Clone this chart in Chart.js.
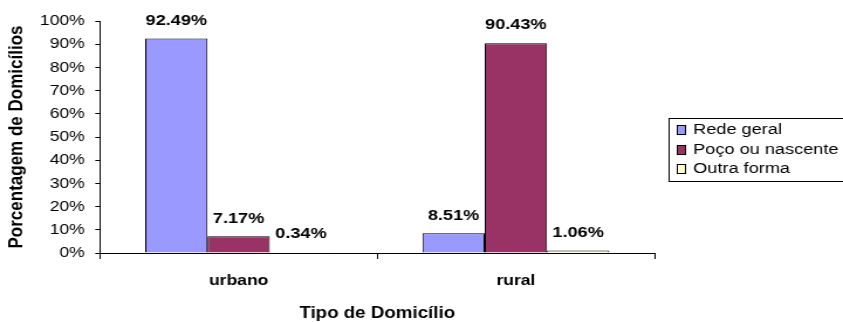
<!DOCTYPE html>
<html>
<head>
<meta charset="utf-8">
<script src="https://cdn.jsdelivr.net/npm/chart.js@4"></script>
<style>
  html, body { margin: 0; padding: 0; background: #fff; }
  /* o gráfico é desenhado mais estreito e esticado na horizontal */
  #grafico { display: block; width: 843px !important; height: 322px !important; }
</style>
</head>
<body>
<canvas id="grafico" width="720" height="322"></canvas>
<script>
// DADOS
const categorias = ['urbano', 'rural'];
const redeGeral = [92.49, 8.51];
const pocoNascente = [7.17, 90.43];
const outraForma = [0.34, 1.06];
const series = ['Rede geral', 'Poço ou nascente', 'Outra forma'];
const cores = ['#9999FF', '#993366', '#FFFFCC'];

const FONTE = 'Arial, "Liberation Sans", sans-serif';
const LARGURA = 720;

// rótulos de valor em cima de cada barra
const rotulosPlugin = {
  id: 'rotulos',
  afterDatasetsDraw(chart) {
    const ctx = chart.ctx;
    ctx.save();
    ctx.font = 'bold 15.5px ' + FONTE;
    ctx.fillStyle = '#000';
    ctx.textAlign = 'center';
    ctx.textBaseline = 'middle';
    chart.data.datasets.forEach((ds, i) => {
      chart.getDatasetMeta(i).data.forEach((bar, j) => {
        ctx.fillText(ds.data[j].toFixed(2) + '%', bar.x, bar.y - 18);
      });
    });
    ctx.restore();
  }
};

// legenda com moldura à direita
const legendaPlugin = {
  id: 'legenda',
  afterDraw(chart) {
    const ctx = chart.ctx;
    const x0 = 571, y0 = 118, h = 63;
    ctx.save();
    ctx.fillStyle = '#fff';
    ctx.fillRect(x0, y0, LARGURA - x0 + 2, h);
    ctx.strokeStyle = '#000';
    ctx.lineWidth = 1;
    ctx.strokeRect(x0 + 0.5, y0 + 0.5, LARGURA - x0 + 5, h);
    ctx.font = '15.5px ' + FONTE;
    ctx.textBaseline = 'middle';
    chart.data.datasets.forEach((ds, i) => {
      const y = Math.round(129 + i * 19.5);
      ctx.fillStyle = ds.backgroundColor;
      ctx.fillRect(578, y - 4, 8, 10);
      ctx.strokeStyle = '#000';
      ctx.strokeRect(578.5, y - 3.5, 7, 9);
      ctx.fillStyle = '#000';
      ctx.fillText(ds.label, 592, y + 1);
    });
    ctx.restore();
  }
};

const valores = [redeGeral, pocoNascente, outraForma];

new Chart(document.getElementById('grafico').getContext('2d'), {
  type: 'bar',
  data: {
    labels: categorias,
    datasets: series.map((nome, i) => ({
      label: nome,
      data: valores[i],
      backgroundColor: cores[i],
      borderColor: '#000',
      borderWidth: 1,
      categoryPercentage: 0.674,
      barPercentage: 1
    }))
  },
  options: {
    responsive: false,
    animation: false,
    devicePixelRatio: 1,
    layout: { padding: { top: 21, right: 161, left: 0, bottom: 0 } },
    plugins: {
      legend: { display: false },
      tooltip: { enabled: false }
    },
    scales: {
      x: {
        afterFit: (s) => { s.height = 69; },
        grid: { drawOnChartArea: false, color: '#000', tickLength: 6, offset: true },
        border: { color: '#000', width: 1 },
        ticks: { color: '#000', font: { family: FONTE, size: 15, weight: 'bold' }, padding: 13 },
        title: {
          display: true, text: 'Tipo de Domicílio', color: '#000',
          font: { family: FONTE, size: 16, weight: 'bold' }, padding: { top: 4, bottom: -1 }
        }
      },
      y: {
        min: 0, max: 100,
        afterFit: (s) => { s.width = 85.4; },
        grid: { drawOnChartArea: false, color: '#000', tickLength: 4 },
        border: { color: '#000', width: 1 },
        ticks: {
          stepSize: 10, color: '#000', padding: 9,
          font: { family: FONTE, size: 15 },
          callback: (v) => v + '%'
        },
        title: {
          display: true, text: 'Porcentagem de Domicílios', color: '#000',
          font: { family: FONTE, size: 17, weight: 'bold' }, padding: { top: 4, bottom: 0 }
        }
      }
    }
  },
  plugins: [rotulosPlugin, legendaPlugin]
});
</script>
</body>
</html>
